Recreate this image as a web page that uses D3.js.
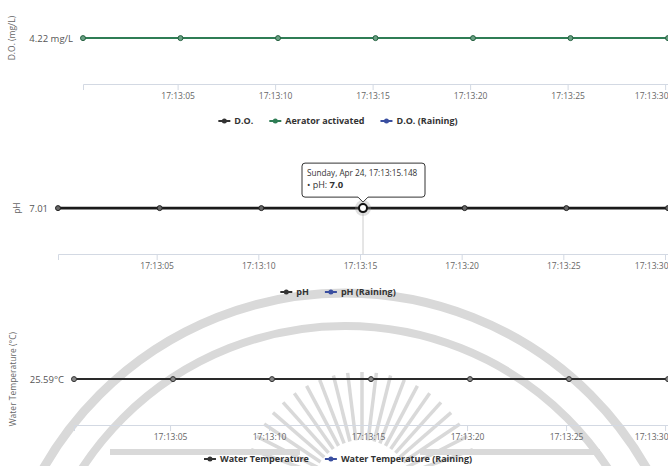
<!DOCTYPE html>
<html>
<head>
<meta charset="utf-8">
<script src="https://cdn.jsdelivr.net/npm/d3@7"></script>
<style>
  body { margin: 0; background: #fff; }
  svg text { font-family: "Open Sans", "DejaVu Sans", sans-serif; }
</style>
</head>
<body>
<svg id="chart" width="668" height="466"></svg>
<script>
// sample times (one reading every 5 s)
const times = ["17:13:00.148", "17:13:05.148", "17:13:10.148", "17:13:15.148", "17:13:20.148", "17:13:25.148", "17:13:30.148"];
const tickLabels = ["17:13:05", "17:13:10", "17:13:15", "17:13:20", "17:13:25", "17:13:30"];

// series values
const aeratorValues = [4.22, 4.22, 4.22, 4.22, 4.22, 4.22, 4.22];
const phValues = [7.01, 7.01, 7.01, 7.01, 7.01, 7.01, 7.01];
const tempValues = [25.59, 25.59, 25.59, 25.59, 25.59, 25.59, 25.59];

// legend names
const doLegend = ["D.O.", "Aerator activated", "D.O. (Raining)"];
const phLegend = ["pH", "pH (Raining)"];
const tempLegend = ["Water Temperature", "Water Temperature (Raining)"];

// hovered point in the pH chart
const tooltipIndex = 3;
const tooltipDate = "Sunday, Apr 24, 17:13:15.148";
const tooltipValue = "7.0";

const parseTime = d3.timeParse("%H:%M:%S.%L");
const parseTick = d3.timeParse("%H:%M:%S");
const svg = d3.select("#chart");
const W = 668;

// watermark (faint seal in the background)
const wm = svg.append("g").attr("fill", "none").attr("stroke", "#d9d9d9");
wm.append("circle").attr("cx", 345).attr("cy", 640).attr("r", 347).attr("stroke-width", 9);
wm.append("circle").attr("cx", 345).attr("cy", 640).attr("r", 314).attr("stroke-width", 8);
d3.range(200, 341, 7).forEach(a => {
  const r = a * Math.PI / 180;
  wm.append("line")
    .attr("x1", 362 + Math.cos(r) * 50).attr("y1", 490 + Math.sin(r) * 50)
    .attr("x2", 362 + Math.cos(r) * 118).attr("y2", 490 + Math.sin(r) * 118)
    .attr("stroke-width", 3.5);
});
wm.append("line").attr("x1", 110).attr("y1", 452).attr("x2", 300).attr("y2", 452).attr("stroke-width", 6);
wm.append("line").attr("x1", 420).attr("y1", 452).attr("x2", 600).attr("y2", 452).attr("stroke-width", 6);

const panels = [
  { title: "D.O. (mg/L)", titleX: 15, values: aeratorValues, fmt: v => v.toFixed(2) + " mg/L",
    left: 83, axisY: 84, legendGap: 37, lineColor: "#2f7d55", lineWidth: 2, pointFill: "#6aa184", pointStroke: "#24603f",
    legend: doLegend, legendColors: ["#333", "#2f7d55", "#3a4fa0"] },
  { title: "pH", titleX: 20, values: phValues, fmt: v => v.toFixed(2),
    left: 58, axisY: 254, legendGap: 38, lineColor: "#1a1a1a", lineWidth: 2.6, pointFill: "#666", pointStroke: "#222",
    legend: phLegend, legendColors: ["#333", "#3a4fa0"] },
  { title: "Water Temperature (°C)", titleX: 16, values: tempValues, fmt: v => v.toFixed(2) + "°C",
    left: 74, axisY: 425, legendGap: 34, lineColor: "#2a2a2a", lineWidth: 2, pointFill: "#888", pointStroke: "#333",
    legend: tempLegend, legendColors: ["#333", "#3a4fa0"] }
];

panels.forEach((p, pi) => {
  const g = svg.append("g");
  const data = times.map((t, i) => ({ t: parseTime(t), v: p.values[i] }));

  const x = d3.scaleTime()
    .domain(d3.extent(data, d => d.t))
    .range([p.left, W]);

  const v0 = p.values[0];
  const y = d3.scaleLinear()
    .domain([v0 - 0.62, v0 + 0.38])
    .range([p.axisY, p.axisY - 74]);

  // x axis
  const xAxis = g.append("g")
    .attr("transform", `translate(0,${p.axisY})`)
    .call(d3.axisBottom(x)
      .tickValues(tickLabels.map(parseTick))
      .tickFormat(d3.timeFormat("%H:%M:%S"))
      .tickSizeOuter(0)
      .tickSize(6)
      .tickPadding(3));
  xAxis.select(".domain").attr("stroke", "#d3d9e3");
  xAxis.selectAll(".tick line").attr("stroke", "#d3d9e3");
  xAxis.selectAll(".tick text").attr("fill", "#666").style("font-size", "8.5px");
  // keep the last label inside the frame
  xAxis.selectAll(".tick").each(function (d) {
    const txt = d3.select(this).select("text");
    const w = txt.node().getComputedTextLength();
    const tx = x(d);
    if (tx + w / 2 > W) txt.attr("text-anchor", "end").attr("x", W - tx);
  });

  // y axis: single label at the reading
  const yAxis = g.append("g")
    .attr("transform", `translate(${p.left - 4},0)`)
    .call(d3.axisLeft(y).tickValues([v0]).tickFormat(p.fmt).tickSize(0).tickPadding(6));
  yAxis.select(".domain").remove();
  yAxis.selectAll(".tick text").attr("fill", "#555").style("font-size", "9.5px");

  // y title
  g.append("text")
    .attr("transform", `translate(${p.titleX},${y(v0)}) rotate(-90)`)
    .attr("text-anchor", "middle")
    .attr("fill", "#666")
    .style("font-size", "8.5px")
    .text(p.title);

  // crosshair for the hovered point
  if (pi === 1) {
    const hd = data[tooltipIndex];
    g.append("line")
      .attr("x1", x(hd.t)).attr("x2", x(hd.t))
      .attr("y1", y(hd.v)).attr("y2", p.axisY)
      .attr("stroke", "#ccc").attr("stroke-width", 1);
  }

  // line
  const line = d3.line().x(d => x(d.t)).y(d => y(d.v));
  g.append("path")
    .datum(data)
    .attr("fill", "none")
    .attr("stroke", p.lineColor)
    .attr("stroke-width", p.lineWidth)
    .attr("d", line);

  g.selectAll(".pt")
    .data(data)
    .join("circle")
    .attr("class", "pt")
    .attr("cx", d => x(d.t))
    .attr("cy", d => y(d.v))
    .attr("r", 2.5)
    .attr("fill", p.pointFill)
    .attr("stroke", p.pointStroke)
    .attr("stroke-width", 1);

  // legend
  const lg = g.append("g");
  let cursor = 0;
  p.legend.forEach((name, i) => {
    const it = lg.append("g");
    it.append("line").attr("x1", 0).attr("x2", 12).attr("y1", 0).attr("y2", 0)
      .attr("stroke", p.legendColors[i]).attr("stroke-width", 2);
    it.append("circle").attr("cx", 6).attr("cy", 0).attr("r", 2.5)
      .attr("fill", p.legendColors[i]);
    const txt = it.append("text").attr("x", 16).attr("y", 3)
      .attr("fill", "#333").style("font-size", "9px").style("font-weight", "bold")
      .text(name);
    const w = 16 + txt.node().getComputedTextLength();
    it.attr("transform", `translate(${cursor},0)`);
    cursor += w + 16;
  });
  const total = cursor - 16;
  lg.attr("transform", `translate(${338 - total / 2},${p.axisY + p.legendGap})`);

  // tooltip on the pH chart
  if (pi === 1) {
    const hd = data[tooltipIndex];
    const px = x(hd.t), py = y(hd.v);
    g.append("circle").attr("cx", px).attr("cy", py).attr("r", 8)
      .attr("fill", "#999").attr("opacity", 0.3);
    g.append("circle").attr("cx", px).attr("cy", py).attr("r", 4)
      .attr("fill", "#fff").attr("stroke", "#111").attr("stroke-width", 2);

    const bx = px - 61, by = py - 45, bw = 123, bh = 34;
    const tip = g.append("g");
    tip.append("path")
      .attr("d", `M${bx + 3},${by} H${bx + bw - 3} Q${bx + bw},${by} ${bx + bw},${by + 3} V${by + bh - 3} Q${bx + bw},${by + bh} ${bx + bw - 3},${by + bh}
        H${px + 5} L${px},${by + bh + 5} L${px - 5},${by + bh} H${bx + 3} Q${bx},${by + bh} ${bx},${by + bh - 3} V${by + 3} Q${bx},${by} ${bx + 3},${by} Z`)
      .attr("fill", "#fff").attr("stroke", "#333").attr("stroke-width", 1);
    tip.append("text").attr("x", bx + 5).attr("y", by + 13)
      .attr("fill", "#333").style("font-size", "8.2px").text(tooltipDate);
    const t2 = tip.append("text").attr("x", bx + 5).attr("y", by + 25)
      .attr("fill", "#333").style("font-size", "9px");
    t2.append("tspan").text("• pH: ");
    t2.append("tspan").style("font-weight", "bold").style("font-size", "9.5px").text(tooltipValue);
  }
});
</script>
</body>
</html>
